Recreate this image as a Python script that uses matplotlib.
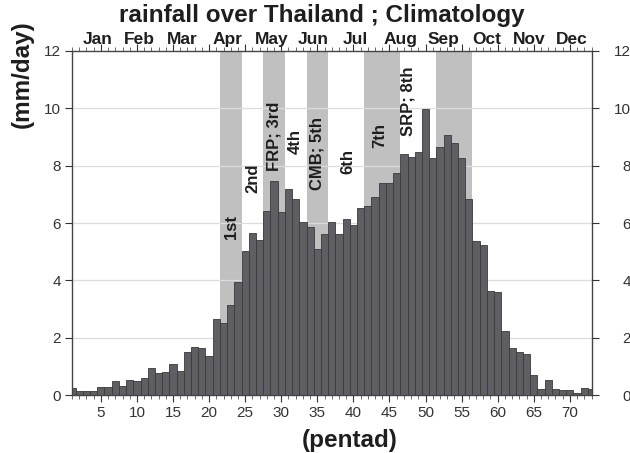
import numpy as np
import matplotlib
matplotlib.use('Agg')
import matplotlib.pyplot as plt
from matplotlib.ticker import MultipleLocator

plt.rcParams['font.family'] = ['Liberation Sans', 'DejaVu Sans']

# pentad rainfall climatology (mm/day)
pentads = np.arange(1, 74)
rain = [0.24, 0.16, 0.14, 0.16, 0.30, 0.30, 0.50, 0.34, 0.52, 0.50,
        0.59, 0.95, 0.77, 0.80, 1.10, 0.84, 1.50, 1.67, 1.64, 1.38,
        2.66, 2.52, 3.13, 3.95, 5.04, 5.64, 5.41, 6.42, 7.48, 6.38,
        7.19, 6.83, 6.05, 5.88, 5.09, 5.62, 6.03, 5.62, 6.16, 5.92,
        6.52, 6.61, 6.92, 7.41, 7.39, 7.74, 8.41, 8.29, 8.48, 9.99,
        8.28, 8.66, 9.08, 8.80, 8.26, 6.85, 5.38, 5.23, 3.64, 3.60,
        2.23, 1.64, 1.52, 1.45, 0.69, 0.23, 0.53, 0.21, 0.19, 0.19,
        0.07, 0.27, 0.21]

# shaded periods (first, last pentad)
bands = [(22, 24), (28, 30), (34, 36), (42, 46), (52, 56)]

# stage labels: text, pentad, height
stage_text = ['1st', '2nd', 'FRP; 3rd', '4th', 'CMB; 5th', '6th', '7th', 'SRP; 8th']
stage_x = [23.1, 26.1, 29.0, 32.0, 35.0, 39.3, 43.6, 47.6]
stage_y = [5.87, 7.56, 9.03, 8.84, 8.43, 8.14, 9.07, 10.23]

months = ['Jan', 'Feb', 'Mar', 'Apr', 'May', 'Jun', 'Jul', 'Aug', 'Sep', 'Oct', 'Nov', 'Dec']
month_x = [4.5, 10.3, 16.3, 22.6, 28.7, 34.4, 40.2, 46.5, 52.5, 58.5, 64.3, 70.3]

fig = plt.figure(figsize=(6.3, 4.53), dpi=100)
ax = fig.add_axes([0.1143, 0.1274, 0.8246, 0.7602])

for lo, hi in bands:
    ax.axvspan(lo - 0.5, hi + 0.5, color='#c0c0c0', lw=0, zorder=0)
for yv in range(2, 12, 2):
    ax.axhline(yv, color='#dcdcdc', lw=0.9, zorder=1)

ax.bar(pentads, rain, width=1.0, color='#5f5f63', edgecolor='#3a3a3c',
       linewidth=0.6, zorder=2)

for t, xx, yy in zip(stage_text, stage_x, stage_y):
    ax.text(xx, yy, t, rotation=90, ha='center', va='center',
            fontsize=12, fontweight='bold', color='#1e1e1e', zorder=3)

ax.set_xlim(1, 73)
ax.set_ylim(0, 12)
ax.set_xticks(np.arange(5, 71, 5))
ax.xaxis.set_minor_locator(MultipleLocator(1))
ax.set_yticks(np.arange(0, 13, 2))
ax.tick_params(axis='both', which='major', direction='out', length=5, width=0.8,
               labelsize=11, colors='#333333', top=True, pad=3)
ax.tick_params(axis='x', which='minor', direction='out', length=3, width=0.6,
               top=True, colors='#555555')
for sp in ax.spines.values():
    sp.set_linewidth(1.0)
    sp.set_color('#444444')

# right-hand axis, labels pushed to the picture edge as in the original
ax2 = ax.twinx()
ax2.set_ylim(0, 12)
ax2.set_yticks(np.arange(0, 13, 2))
ax2.tick_params(axis='y', direction='out', length=5, width=0.8, labelsize=11,
                colors='#333333', pad=23.2)
for lab in ax2.get_yticklabels():
    lab.set_horizontalalignment('right')
for sp in ax2.spines.values():
    sp.set_visible(False)

top = ax.secondary_xaxis('top')
top.set_xticks(month_x)
top.set_xticklabels(months, fontsize=12.5, fontweight='bold', color='#1e1e1e')
top.tick_params(length=0, pad=3)
top.spines['top'].set_visible(False)

fig.text(322 / 630, 1 - 22 / 453, 'rainfall over Thailand ; Climatology',
         ha='center', va='baseline', fontsize=17.5, fontweight='bold', color='#1e1e1e')
fig.text(22 / 630, 1 - 74 / 453, '(mm/day)', rotation=90, ha='center', va='center',
         fontsize=17.5, fontweight='bold', color='#1e1e1e')
fig.text(350 / 630, 1 - 440 / 453, '(pentad)', ha='center', va='center',
         fontsize=17.5, fontweight='bold', color='#1e1e1e')

fig.savefig('out.png', dpi=100, facecolor='white')
